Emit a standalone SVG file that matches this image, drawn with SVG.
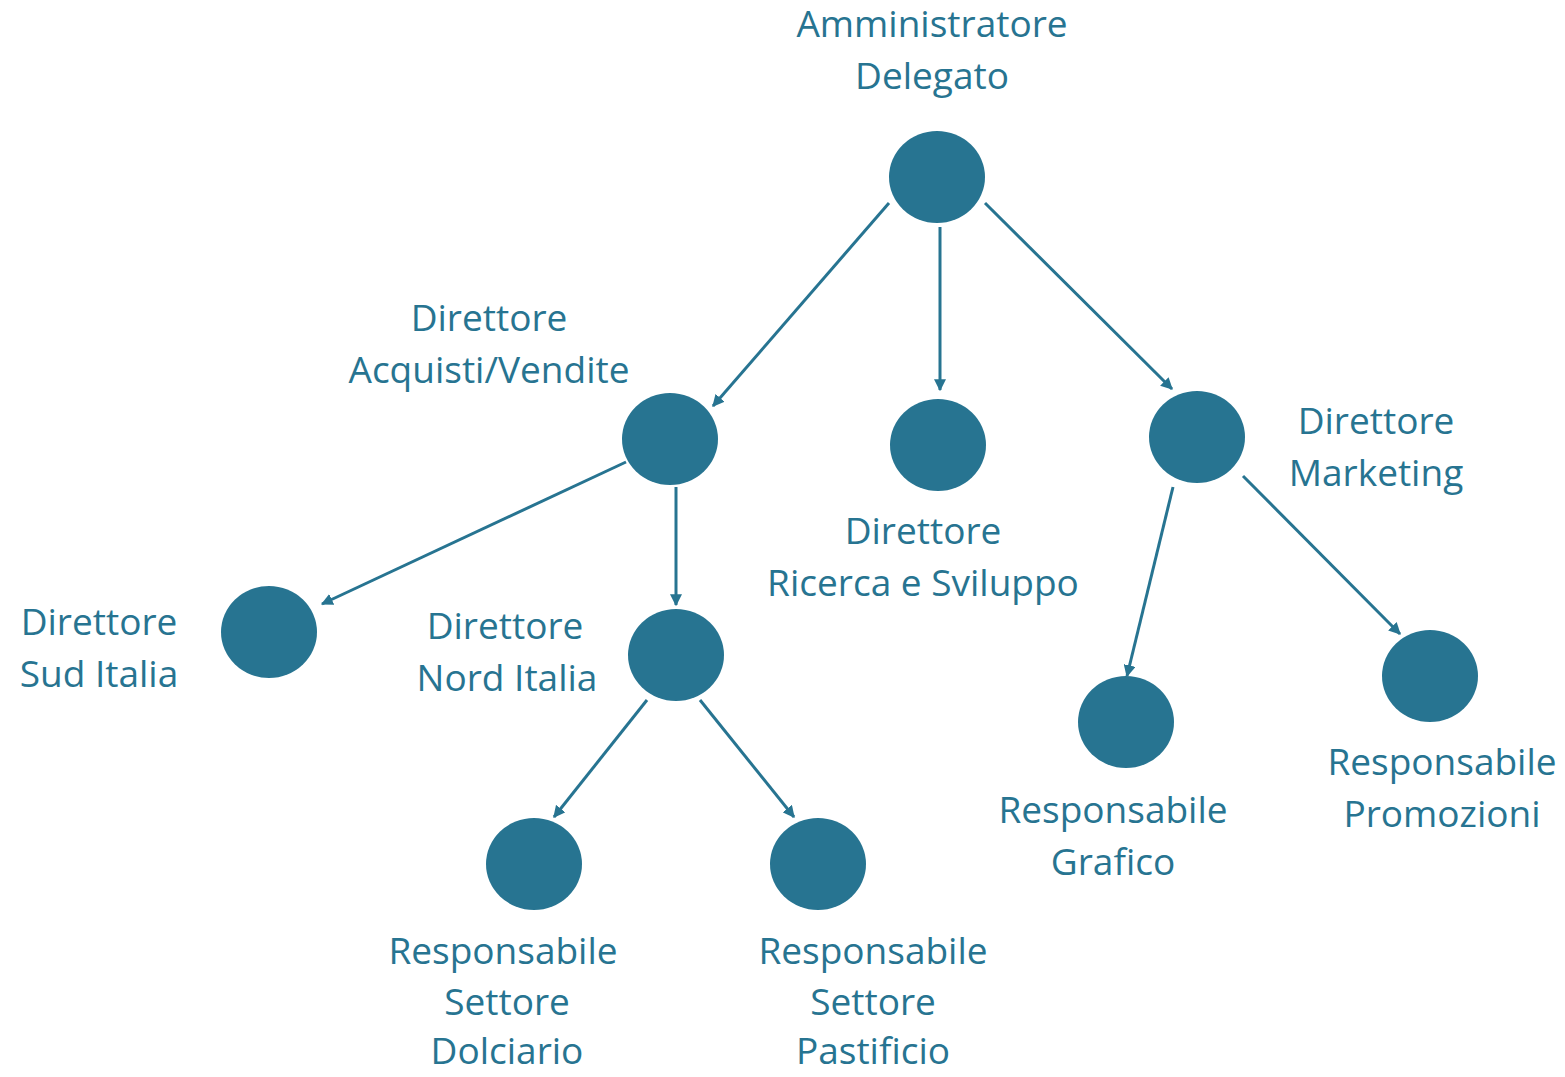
<svg xmlns="http://www.w3.org/2000/svg" width="1565" height="1077" viewBox="0 0 1565 1077">
<style>
.n{fill:#277491}
.t{font-family:"Open Sans","Noto Sans",sans-serif;font-size:37px;fill:#277491;text-anchor:middle}
.c{stroke:#277491;stroke-width:3;fill:none;marker-end:url(#ah)}
</style>
<defs>
<marker id="ah" viewBox="0 0 10 10" refX="9" refY="5" markerWidth="4" markerHeight="4" orient="auto" markerUnits="strokeWidth">
<path d="M0,0 L10,5 L0,10 Z" fill="#277491"/>
</marker>
</defs>
<rect width="1565" height="1077" fill="#fff"/>
<g id="connectors">
<line class="c" x1="889" y1="203" x2="713" y2="406"/>
<line class="c" x1="940" y1="227" x2="940" y2="390"/>
<line class="c" x1="985" y1="203" x2="1172" y2="389"/>
<line class="c" x1="626" y1="462" x2="322" y2="604"/>
<line class="c" x1="676" y1="487" x2="676" y2="605"/>
<line class="c" x1="647" y1="700" x2="554" y2="817"/>
<line class="c" x1="700" y1="700" x2="794" y2="817"/>
<line class="c" x1="1173" y1="487" x2="1127" y2="676"/>
<line class="c" x1="1243" y1="476" x2="1400" y2="634"/>
</g>
<g id="ad"><ellipse class="n" cx="937" cy="177" rx="48" ry="46"/><text class="t" x="932" y="37">Amministratore</text><text class="t" x="932" y="89">Delegato</text></g>
<g id="dav"><ellipse class="n" cx="670" cy="439" rx="48" ry="46"/><text class="t" x="489" y="331">Direttore</text><text class="t" x="489" y="383">Acquisti/Vendite</text></g>
<g id="drs"><ellipse class="n" cx="938" cy="445" rx="48" ry="46"/><text class="t" x="923" y="544">Direttore</text><text class="t" x="923" y="596">Ricerca e Sviluppo</text></g>
<g id="dm"><ellipse class="n" cx="1197" cy="437" rx="48" ry="46"/><text class="t" x="1376" y="434">Direttore</text><text class="t" x="1376" y="486">Marketing</text></g>
<g id="dsi"><ellipse class="n" cx="269" cy="632" rx="48" ry="46"/><text class="t" x="99" y="635">Direttore</text><text class="t" x="99" y="687">Sud Italia</text></g>
<g id="dni"><ellipse class="n" cx="676" cy="655" rx="48" ry="46"/><text class="t" x="505" y="639">Direttore</text><text class="t" x="507" y="691">Nord Italia</text></g>
<g id="rsd"><ellipse class="n" cx="534" cy="864" rx="48" ry="46"/><text class="t" x="503" y="964">Responsabile</text><text class="t" x="507" y="1015">Settore</text><text class="t" x="507" y="1064">Dolciario</text></g>
<g id="rsp"><ellipse class="n" cx="818" cy="864" rx="48" ry="46"/><text class="t" x="873" y="964">Responsabile</text><text class="t" x="873" y="1015">Settore</text><text class="t" x="873" y="1064">Pastificio</text></g>
<g id="rg"><ellipse class="n" cx="1126" cy="722" rx="48" ry="46"/><text class="t" x="1113" y="823">Responsabile</text><text class="t" x="1113" y="875">Grafico</text></g>
<g id="rp"><ellipse class="n" cx="1430" cy="676" rx="48" ry="46"/><text class="t" x="1442" y="775">Responsabile</text><text class="t" x="1442" y="827">Promozioni</text></g>
</svg>
